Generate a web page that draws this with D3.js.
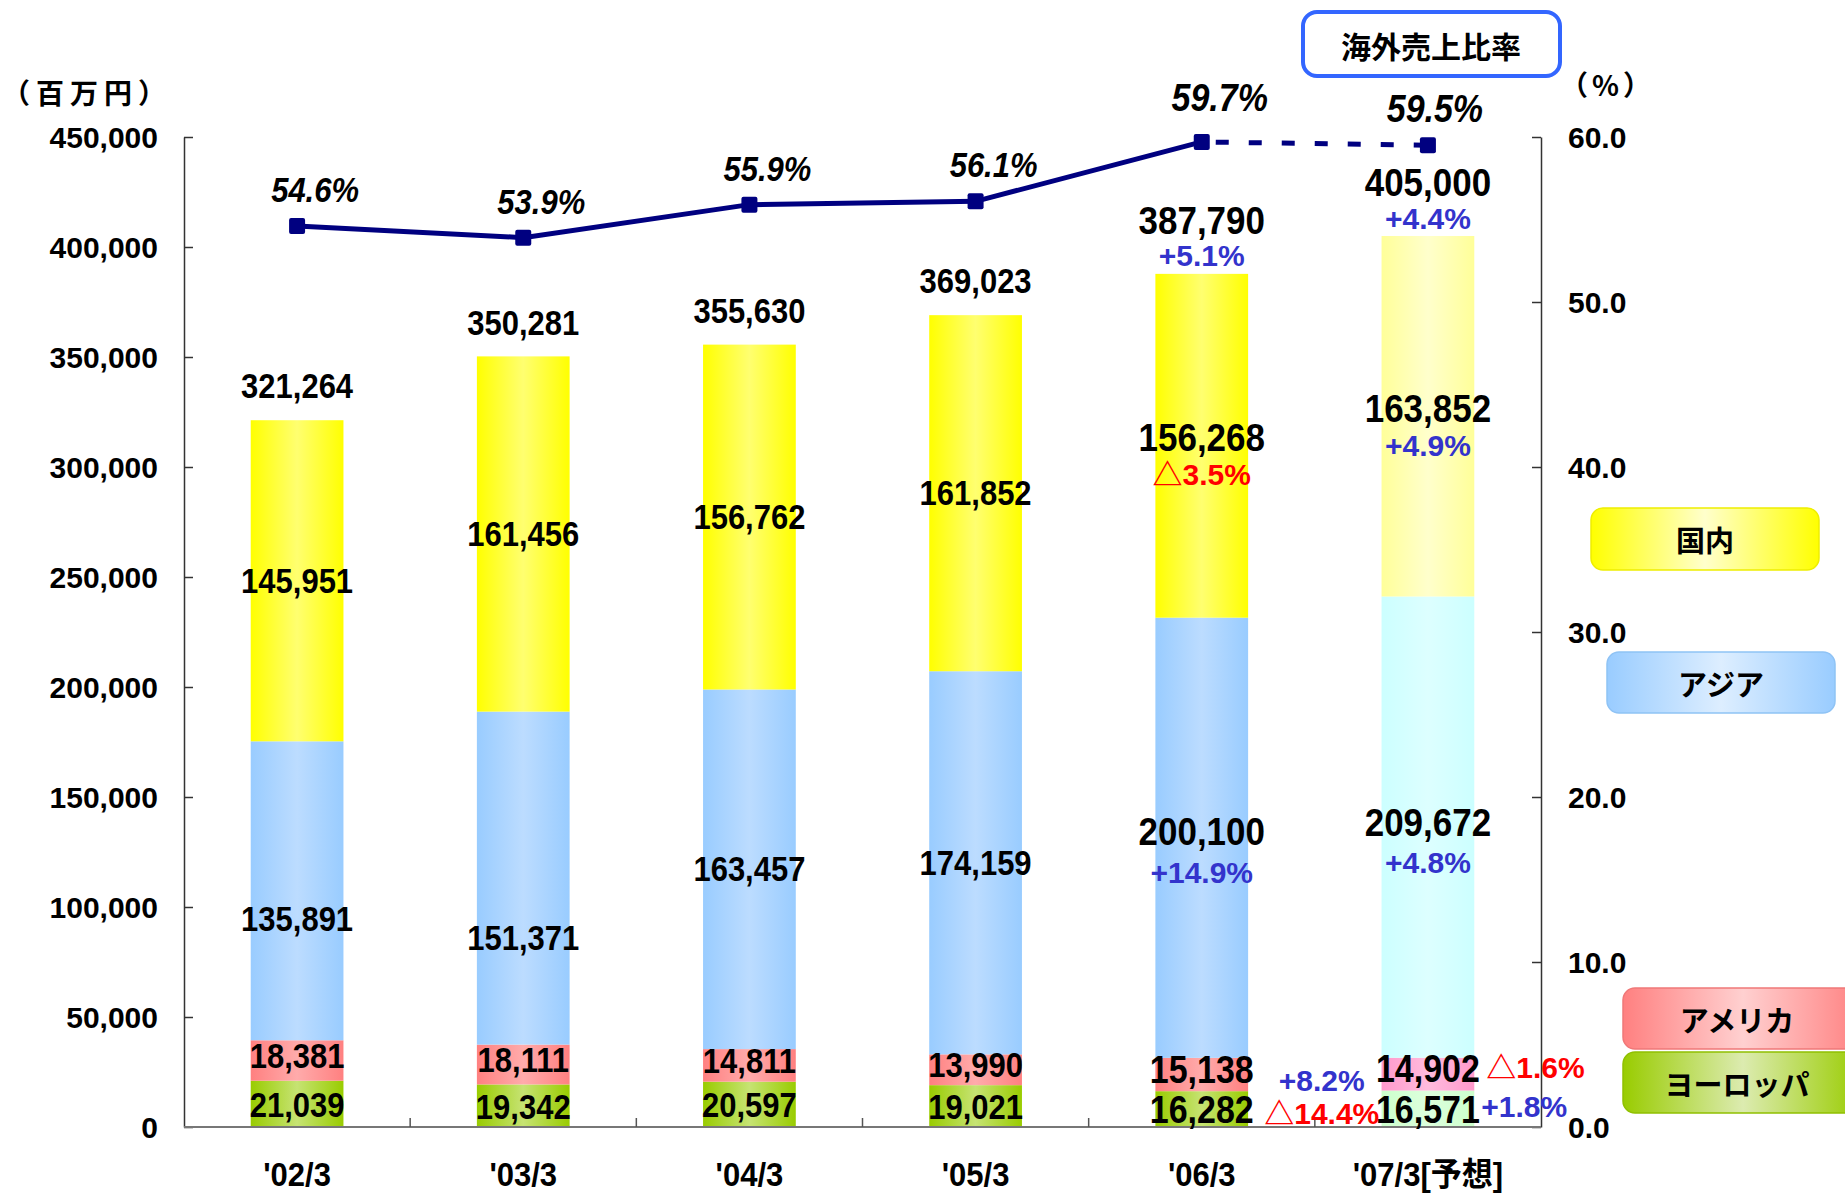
<!DOCTYPE html>
<html>
<head>
<meta charset="utf-8">
<script src="https://cdn.jsdelivr.net/npm/d3@7"></script>
<style>
  body { margin: 0; background: #fff; }
  text { font-family: "Liberation Sans", Arial, "Noto Sans CJK JP", sans-serif; font-weight: bold; }
</style>
</head>
<body>
<div id="chart_area"></div>
<script>
// data (百万円)
var categories = ["'02/3", "'03/3", "'04/3", "'05/3", "'06/3", "'07/3[予想]"];
var europe = [21039, 19342, 20597, 19021, 16282, 16571];
var america = [18381, 18111, 14811, 13990, 15138, 14902];
var asia = [135891, 151371, 163457, 174159, 200100, 209672];
var domestic = [145951, 161456, 156762, 161852, 156268, 163852];
var totals = [321264, 350281, 355630, 369023, 387790, 405000];
var overseasRatio = [54.6, 53.9, 55.9, 56.1, 59.7, 59.5];

// year-on-year labels ("△" = minus)
var totalGrowth = [null, null, null, null, "+5.1%", "+4.4%"];
var domesticGrowth = [null, null, null, null, "△3.5%", "+4.9%"];
var asiaGrowth = [null, null, null, null, "+14.9%", "+4.8%"];
var americaGrowth = [null, null, null, null, "+8.2%", "△1.6%"];
var europeGrowth = [null, null, null, null, "△14.4%", "+1.8%"];

var leftTicks = [0, 50000, 100000, 150000, 200000, 250000, 300000, 350000, 400000, 450000];
var rightTicks = [0, 10, 20, 30, 40, 50, 60];

var keys = ["europe", "america", "asia", "domestic"];
var legendNames = { domestic: "国内", asia: "アジア", america: "アメリカ", europe: "ヨーロッパ" };

var W = 1845, H = 1195,
    plotLeft = 184, plotRight = 1541, plotTop = 137, plotBottom = 1127;

var blue = "#3333cc", red = "#ff0000", navy = "#000080";
var stretch = 1.12; // the original font is a bit taller than Liberation Sans

var rows = categories.map(function (c, i) {
    return { cat: c, i: i, europe: europe[i], america: america[i], asia: asia[i], domestic: domestic[i] };
});

var svg = d3.select("#chart_area")
    .append("svg")
    .attr("width", W)
    .attr("height", H);

svg.append("rect").attr("width", W).attr("height", H).attr("fill", "#fff");

// gradients: edge colour, centre colour
var fills = {
    domestic: ["#ffff00", "#ffff70"],
    asia: ["#99ccff", "#bcdcff"],
    america: ["#ff8080", "#ffabab"],
    europe: ["#99cc00", "#c6e373"],
    domestic_f: ["#ffff99", "#ffffcc"],
    asia_f: ["#ccffff", "#ddffff"],
    america_f: ["#ff99cc", "#ffbbdd"],
    europe_f: ["#ccffcc", "#ddffdd"],
    lg_domestic: ["#ffff00", "#ffffcc"],
    lg_asia: ["#99ccff", "#ddeeff"],
    lg_america: ["#ff8080", "#ffd0d0"],
    lg_europe: ["#99cc00", "#dcebb0"]
};
var defs = svg.append("defs");
Object.keys(fills).forEach(function (k) {
    var g = defs.append("linearGradient").attr("id", "g_" + k)
        .attr("x1", "0%").attr("x2", "100%").attr("y1", "0%").attr("y2", "0%");
    g.append("stop").attr("offset", "0%").attr("stop-color", fills[k][0]);
    g.append("stop").attr("offset", "50%").attr("stop-color", fills[k][1]);
    g.append("stop").attr("offset", "100%").attr("stop-color", fills[k][0]);
});

// scales
var x = d3.scaleBand()
    .domain(categories)
    .range([plotLeft, plotRight])
    .paddingInner(0.59)
    .paddingOuter(0.295);
var xStep = d3.scaleBand().domain(categories).range([plotLeft, plotRight]);
var y = d3.scaleLinear().domain([0, 450000]).range([plotBottom, plotTop]);
var y2 = d3.scaleLinear().domain([0, 60]).range([plotBottom, plotTop]);

function cx(c) { return x(c) + x.bandwidth() / 2; }

// stacked bars
var stacked = d3.stack().keys(keys)(rows);

svg.append("g").selectAll("g")
    .data(stacked)
    .enter()
    .append("g")
    .each(function (layer) {
        d3.select(this).selectAll("rect")
            .data(layer)
            .enter()
            .append("rect")
            .attr("x", function (d) { return x(d.data.cat); })
            .attr("y", function (d) { return y(d[1]); })
            .attr("width", x.bandwidth())
            .attr("height", function (d) { return y(d[0]) - y(d[1]); })
            .attr("fill", function (d) {
                return "url(#g_" + layer.key + (d.data.i === 5 ? "_f" : "") + ")";
            });
    });

// axes
var axisL = svg.append("g")
    .attr("transform", "translate(" + plotLeft + ",0)")
    .call(d3.axisLeft(y).tickValues(leftTicks).tickFormat(d3.format(","))
        .tickSizeInner(-9).tickSizeOuter(0).tickPadding(26));
var axisR = svg.append("g")
    .attr("transform", "translate(" + plotRight + ",0)")
    .call(d3.axisRight(y2).tickValues(rightTicks).tickFormat(d3.format(".1f"))
        .tickSizeInner(-9).tickSizeOuter(0).tickPadding(27));
[axisL, axisR].forEach(function (a) {
    a.selectAll("path, line").attr("stroke", "#333").attr("stroke-width", 1.5);
    a.selectAll("text")
        .attr("fill", "#000")
        .style("font-size", "30px")
        .style("font-family", "'Liberation Sans', Arial, sans-serif")
        .style("font-weight", "bold")
        .attr("dy", "0.35em");
});

// category axis
svg.append("line")
    .attr("x1", plotLeft).attr("x2", plotRight)
    .attr("y1", plotBottom).attr("y2", plotBottom)
    .attr("stroke", "#777").attr("stroke-width", 2);
svg.append("g").selectAll("line")
    .data(categories.slice(1))
    .enter()
    .append("line")
    .attr("x1", function (d) { return xStep(d); })
    .attr("x2", function (d) { return xStep(d); })
    .attr("y1", plotBottom).attr("y2", plotBottom - 9)
    .attr("stroke", "#555").attr("stroke-width", 1.5);
svg.append("g").selectAll("text")
    .data(categories)
    .enter()
    .append("text")
    .attr("transform", function (d) { return "translate(" + cx(d) + ",1175) scale(1,1.06)"; })
    .attr("text-anchor", "middle")
    .attr("dominant-baseline", "central")
    .style("font-size", "31px")
    .text(function (d) { return d; });

// unit labels
svg.append("text").attr("x", 2).attr("y", 92)
    .attr("dominant-baseline", "central")
    .style("font-family", "'Noto Sans CJK JP'").style("font-size", "28px")
    .style("letter-spacing", "6px")
    .text("（百万円）");
svg.append("text").attr("x", 1560).attr("y", 84)
    .attr("dominant-baseline", "central")
    .style("font-family", "'Noto Sans CJK JP'").style("font-size", "28px")
    .style("letter-spacing", "4px")
    .text("（%）");

// labels in / above bars
function growthColour(s) { return s.charAt(0) === "△" ? red : blue; }

var labels = svg.append("g");
function addLabel(tx, ty, txt, size, colour, anchor) {
    var sy = colour ? 1 : stretch;
    labels.append("text")
        .attr("transform", "translate(" + tx + "," + ty + ") scale(1," + sy + ")")
        .attr("text-anchor", anchor || "middle")
        .attr("dominant-baseline", "central")
        .attr("fill", colour || "#000")
        .style("font-size", size + "px")
        .text(txt);
}

var asiaNudge = [28, 60, 0, 0, -6, -5];
var fmt = d3.format(",");

stacked.forEach(function (layer) {
    layer.forEach(function (d) {
        var i = d.data.i, c = d.data.cat;
        var mid = (y(d[0]) + y(d[1])) / 2;
        var big = i >= 4;
        var vsize = big ? 35 : 31;
        var ssize = big ? 34 : 31;
        var val = d.data[layer.key];
        if (layer.key === "domestic") {
            addLabel(cx(c), big ? mid - 8 : mid, fmt(val), vsize);
            if (domesticGrowth[i]) addLabel(cx(c), mid + 29, domesticGrowth[i], 30, growthColour(domesticGrowth[i]));
        } else if (layer.key === "asia") {
            addLabel(cx(c), mid + asiaNudge[i], fmt(val), vsize);
            if (asiaGrowth[i]) addLabel(cx(c), mid + 35, asiaGrowth[i], 30, growthColour(asiaGrowth[i]));
        } else if (layer.key === "america") {
            addLabel(cx(c), mid - 5, fmt(val), ssize);
            if (americaGrowth[i]) {
                if (i === 4) addLabel(cx(c) + 120, mid + 6, americaGrowth[i], 30, growthColour(americaGrowth[i]));
                else addLabel(x(c) + x.bandwidth() + 12, mid - 7, americaGrowth[i], 30, growthColour(americaGrowth[i]), "start");
            }
        } else {
            addLabel(cx(c), mid + 1, fmt(val), ssize);
            if (europeGrowth[i]) {
                if (i === 4) addLabel(cx(c) + 120, mid + 4, europeGrowth[i], 30, growthColour(europeGrowth[i]));
                else addLabel(x(c) + x.bandwidth() + 7, mid - 2, europeGrowth[i], 30, growthColour(europeGrowth[i]), "start");
            }
        }
    });
});

totals.forEach(function (t, i) {
    var c = categories[i];
    if (totalGrowth[i]) {
        addLabel(cx(c), y(t) - 54, fmt(t), 35);
        addLabel(cx(c), y(t) - 18, totalGrowth[i], 30, growthColour(totalGrowth[i]));
    } else {
        addLabel(cx(c), y(t) - 34, fmt(t), 31);
    }
});

// overseas sales ratio line
var pts = overseasRatio.map(function (v, i) { return [cx(categories[i]), y2(v)]; });
var line = d3.line();
svg.append("path")
    .attr("d", line(pts.slice(0, 5)))
    .attr("fill", "none").attr("stroke", navy).attr("stroke-width", 5);
svg.append("path")
    .attr("d", line(pts.slice(4)))
    .attr("fill", "none").attr("stroke", navy).attr("stroke-width", 5)
    .attr("stroke-dasharray", "13,20").attr("stroke-dashoffset", -14);
svg.append("g").selectAll("rect")
    .data(pts)
    .enter()
    .append("rect")
    .attr("x", function (d) { return d[0] - 8; })
    .attr("y", function (d) { return d[1] - 8; })
    .attr("width", 16).attr("height", 16).attr("rx", 2)
    .attr("fill", navy);
svg.append("g").selectAll("text")
    .data(overseasRatio)
    .enter()
    .append("text")
    .attr("transform", function (d, i) {
        var tx = pts[i][0] + (i === 5 ? 7 : 18);
        var ty = pts[i][1] - (i === 4 ? 44 : 36);
        return "translate(" + tx + "," + ty + ") scale(1," + stretch + ")";
    })
    .attr("text-anchor", "middle")
    .attr("dominant-baseline", "central")
    .style("font-style", "italic")
    .style("font-size", function (d, i) { return i >= 4 ? "34px" : "31px"; })
    .text(function (d) { return d.toFixed(1) + "%"; });

// title box
svg.append("rect")
    .attr("x", 1303).attr("y", 12).attr("width", 257).attr("height", 64).attr("rx", 14)
    .attr("fill", "#fff").attr("stroke", "#3366ff").attr("stroke-width", 4);
svg.append("text")
    .attr("x", 1431).attr("y", 45)
    .attr("text-anchor", "middle").attr("dominant-baseline", "central")
    .style("font-family", "'Noto Sans CJK JP'").style("font-size", "30px")
    .text("海外売上比率");

// legend boxes
var legendBoxes = [
    { key: "domestic", x: 1591, y: 508, w: 228, h: 62, edge: "#eeee00" },
    { key: "asia", x: 1607, y: 652, w: 228, h: 61, edge: "#8fc3f5" },
    { key: "america", x: 1623, y: 988, w: 240, h: 61, edge: "#f07878" },
    { key: "europe", x: 1623, y: 1052, w: 240, h: 61, edge: "#90c000" }
];
var lg = svg.append("g").selectAll("g")
    .data(legendBoxes)
    .enter()
    .append("g");
lg.append("rect")
    .attr("x", function (d) { return d.x; })
    .attr("y", function (d) { return d.y; })
    .attr("width", function (d) { return d.w; })
    .attr("height", function (d) { return d.h; })
    .attr("rx", 12)
    .attr("fill", function (d) { return "url(#g_lg_" + d.key + ")"; })
    .attr("stroke", function (d) { return d.edge; })
    .attr("stroke-width", 1.5);
lg.append("text")
    .attr("x", function (d) { return d.key === "america" || d.key === "europe" ? 1737 : d.x + d.w / 2; })
    .attr("y", function (d) { return d.y + d.h / 2; })
    .attr("text-anchor", "middle")
    .attr("dominant-baseline", "central")
    .style("font-family", "'Noto Sans CJK JP'")
    .style("font-size", "29px")
    .text(function (d) { return legendNames[d.key]; });
</script>
</body>
</html>
